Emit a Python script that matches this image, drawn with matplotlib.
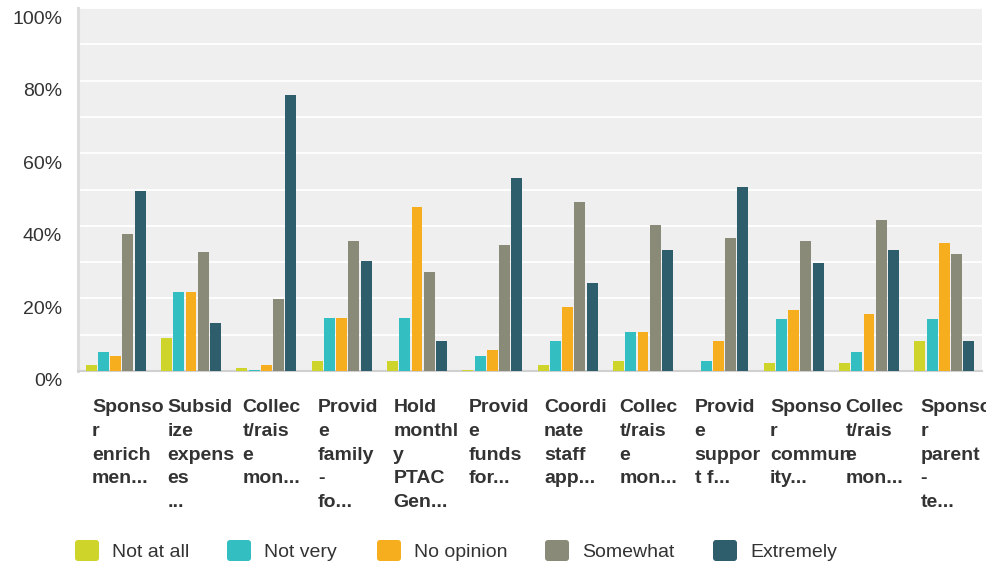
import matplotlib
matplotlib.use("Agg")
import matplotlib.pyplot as plt
import matplotlib.transforms as mtransforms
from matplotlib.patches import FancyBboxPatch
import numpy as np

plt.rcParams['font.family'] = ['Liberation Sans', 'DejaVu Sans']

categories = [
    "Sponso\nr\nenrich\nmen...",
    "Subsid\nize\nexpens\nes\n...",
    "Collec\nt/rais\ne\nmon...",
    "Provid\ne\nfamily\n-\nfo...",
    "Hold\nmonthl\ny\nPTAC\nGen...",
    "Provid\ne\nfunds\nfor...",
    "Coordi\nnate\nstaff\napp...",
    "Collec\nt/rais\ne\nmon...",
    "Provid\ne\nsuppor\nt f...",
    "Sponso\nr\ncommun\nity...",
    "Collec\nt/rais\ne\nmon...",
    "Sponso\nr\nparent\n-\nte...",
]
series_names = ["Not at all", "Not very", "No opinion", "Somewhat", "Extremely"]
not_at_all = [1.6, 9.0, 0.75, 2.7, 2.7, 0.3, 1.6, 2.7, 0.0, 2.1, 2.1, 8.2]
not_very = [5.2, 21.7, 0.3, 14.6, 14.6, 4.1, 8.2, 10.7, 2.7, 14.3, 5.2, 14.3]
no_opinion = [4.1, 21.7, 1.6, 14.6, 45.2, 5.7, 17.6, 10.7, 8.2, 16.8, 15.7, 35.3]
somewhat = [37.8, 32.8, 19.8, 35.8, 27.3, 34.7, 46.6, 40.3, 36.7, 35.8, 41.6, 32.2]
extremely = [49.6, 13.2, 75.9, 30.3, 8.2, 53.2, 24.2, 33.3, 50.7, 29.8, 33.3, 8.2]
y_ticks = [0, 20, 40, 60, 80, 100]
y_tick_labels = ["0%", "20%", "40%", "60%", "80%", "100%"]

colors = ["#CFD42A", "#33BEC1", "#F6AE1F", "#8A8A79", "#2E5E6C"]
text_color = "#333333"

W, H = 987, 564
fig = plt.figure(figsize=(W / 100, H / 100), dpi=100)
fig.patch.set_facecolor("white")
ax = fig.add_axes([78 / W, 1 - 371 / H, 904 / W, 363 / H])
ax.set_facecolor("#EFEFEF")

series = [not_at_all, not_very, no_opinion, somewhat, extremely]
x = np.arange(len(categories))
step = 0.162
width = 0.146
for k, vals in enumerate(series):
    ax.bar(x + (k - 2) * step, vals, width=width, color=colors[k], zorder=3,
           linewidth=0)

ax.set_xlim(-0.5, len(categories) - 0.5)
ax.set_ylim(0, 100)
ax.set_yticks(y_ticks)
ax.set_yticklabels(y_tick_labels)
ax.set_yticks(np.arange(0, 101, 10), minor=True)
ax.set_xticks([])
ax.set_axisbelow(True)
ax.grid(axis='y', which='both', color='white', linewidth=1.3, zorder=0)
ax.tick_params(axis='y', which='both', length=0, pad=11.5, labelsize=14,
               labelcolor=text_color)

for s in ["top", "right"]:
    ax.spines[s].set_visible(False)
ax.spines["left"].set_color("#DCDCDC")
ax.spines["left"].set_linewidth(2.2)
ax.spines["bottom"].set_color("#D0D0D0")
ax.spines["bottom"].set_linewidth(1.5)

offset = mtransforms.ScaledTranslation(0, -9 / 100, fig.dpi_scale_trans)
for lbl in ax.get_yticklabels():
    lbl.set_transform(lbl.get_transform() + offset)

# category labels (wrapped, bold, left-aligned)
trans = mtransforms.blended_transform_factory(ax.transData, fig.transFigure)
for i, cat in enumerate(categories):
    for j, line in enumerate(cat.split("\n")):
        yb = 412 + j * 23.75
        ax.text(i - 0.315, 1 - yb / H, line, transform=trans, ha='left',
                va='baseline', fontsize=14, fontweight='bold',
                color=text_color, clip_on=False)

# legend
sq_x = [75, 227, 377, 545, 713]
for k, name in enumerate(series_names):
    px = sq_x[k]
    patch = FancyBboxPatch((px / 100, (H - 561) / 100), 24 / 100, 21 / 100,
                           boxstyle="round,pad=0,rounding_size=0.03",
                           transform=fig.dpi_scale_trans, facecolor=colors[k],
                           edgecolor='none')
    fig.patches.append(patch)
    fig.text((px + 37) / W, 1 - 557 / H, name, ha='left', va='baseline',
             fontsize=14, color=text_color)

fig.savefig("out.png", dpi=100)
